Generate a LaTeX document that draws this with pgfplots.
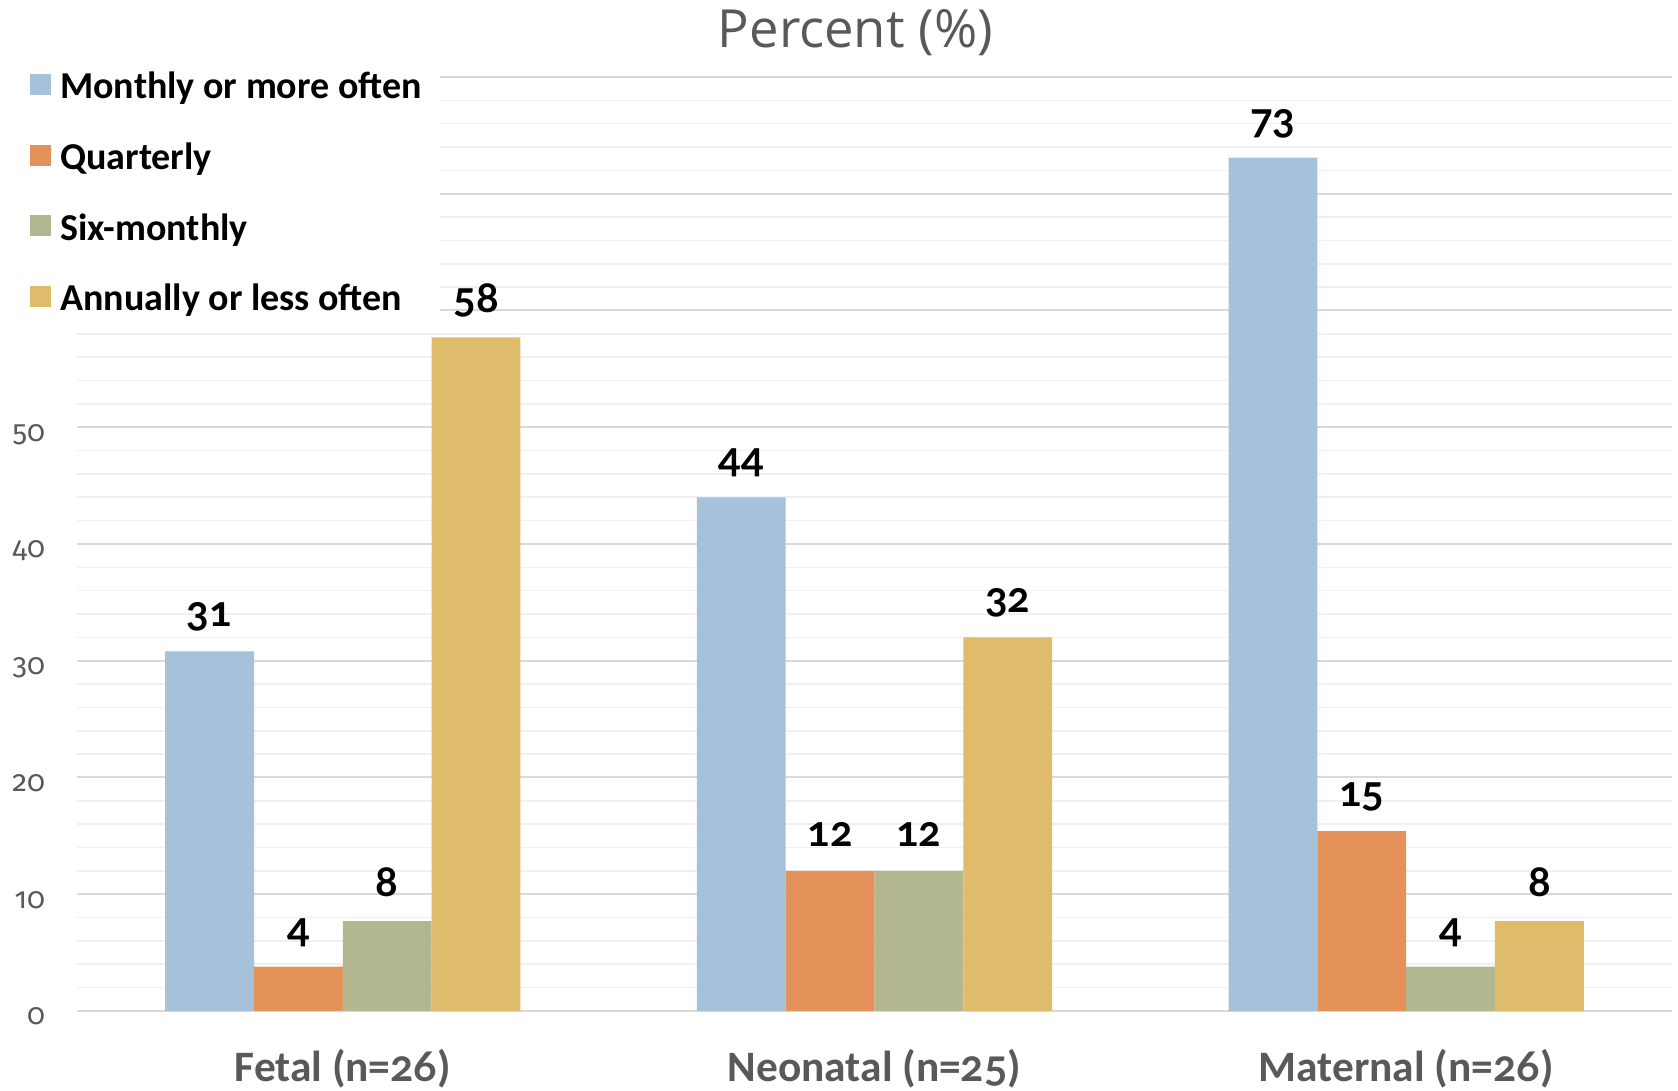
\documentclass[border=0pt]{standalone}
\usepackage{fontspec}
\setmainfont{Carlito}
\newfontfamily\titlefont{Open Sans}
\newfontfamily\latoonum{Lato}[Numbers=OldStyle]
\newfontfamily\firaonum{Fira Sans}[Numbers=OldStyle]
\usepackage{pgfplots}
\pgfplotsset{compat=1.18}
\definecolor{cblue}{HTML}{A5C2DA}
\definecolor{corange}{HTML}{E5925A}
\definecolor{cgreen}{HTML}{B3B78F}
\definecolor{cyellow}{HTML}{DEBC6C}
\definecolor{tgray}{HTML}{595959}
\definecolor{gmaj}{HTML}{D9D9D9}
\definecolor{gmin}{HTML}{F0F0F0}
\begin{document}
\begin{tikzpicture}
\begin{axis}[
  name=ax,
  scale only axis, width=797.5pt, height=467pt,
  xmin=-0.5, xmax=2.5, ymin=0, ymax=80,
  ybar=0pt, bar width=44.4pt,
  xtick={0,1,2},
  xticklabels={Fetal (n={\latoonum 26}),Neonatal (n={\latoonum 25}),Maternal (n={\latoonum 26})},
  ytick={0,10,...,80},
  yticklabels={0,10,20,30,40,50,{},{},{}},
  minor y tick num=4,
  ymajorgrids, yminorgrids,
  major grid style={gmaj, line width=1pt},
  minor grid style={gmin, line width=0.8pt},
  axis line style={draw=none},
  tick style={draw=none},
  major tick length=0pt, minor tick length=0pt,
  xticklabel style={font=\fontsize{21.7}{26}\selectfont\bfseries, text=tgray, anchor=base, yshift=-35.5pt, inner sep=0pt},
  yticklabel style={font=\fontsize{14.8}{18}\selectfont\firaonum, text=tgray, anchor=base east, xshift=-15.8pt, yshift=-7pt, inner sep=0pt},
  title={\titlefont Percent (\%)},
  title style={at={(0.488,1)}, anchor=base, yshift=8.5pt, font=\fontsize{26.3}{31}\selectfont, text=tgray, inner sep=0pt},
  nodes near coords={\pgfmathprintnumber[fixed,precision=0,assume math mode=true]{\pgfplotspointmeta}},
  every node near coord/.append style={font=\fontsize{21}{25}\selectfont\latoonum\bfseries, text=black, anchor=base, yshift=12.2pt, inner sep=0pt},
  legend style={
    at={(axis description cs:-0.0408,1.008)}, anchor=north west,
    draw=none, fill=white, inner xsep=9pt, inner ysep=1.5pt,
    font=\fontsize{19}{23}\selectfont\bfseries, text=black,
    row sep=18.3pt,
    cells={anchor=base west},
    nodes={inner sep=0pt, text height=13pt, text depth=4pt},
  },
  legend image code/.code={\fill[#1] (0pt,2pt) rectangle (10.5pt,12.5pt); \path (15pt,0pt);},
  clip=false,
]
\addplot[fill=cblue, draw=none] coordinates {(0,30.8) (1,44) (2,73.1)};
\addplot[fill=corange, draw=none] coordinates {(0,3.8) (1,12) (2,15.4)};
\addplot[fill=cgreen, draw=none] coordinates {(0,7.7) (1,12) (2,3.8)};
\addplot[fill=cyellow, draw=none] coordinates {(0,57.7) (1,32) (2,7.7)};
\legend{Monthly or more often, Quarterly, Six-monthly, Annually or less often}
\end{axis}
\pgfresetboundingbox
\path[use as bounding box] ([shift={(-38.5pt,-40pt)}]ax.south west) rectangle ([shift={(3pt,38.5pt)}]ax.north east);
\end{tikzpicture}
\end{document}
